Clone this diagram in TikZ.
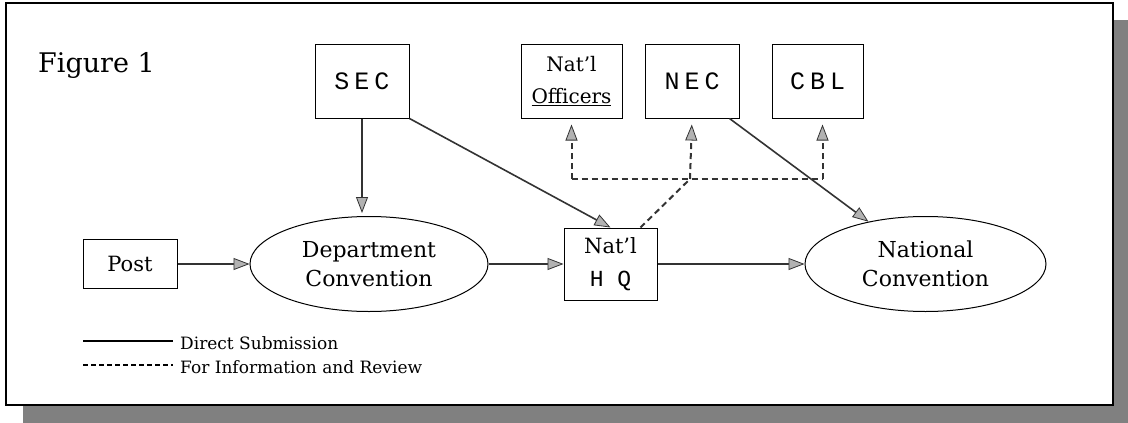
\documentclass[tikz,border=0pt]{standalone}
\usepackage{fontspec}
\setmainfont{DejaVu Serif}
\newfontfamily\typefont{Liberation Mono}
\usepackage{tikz}
\usetikzlibrary{shapes.geometric, arrows.meta, positioning, calc}
\tikzstyle{unit} = [rectangle, minimum width=94pt, minimum height=74pt, text centered, draw=black, line width=1pt, font=\fontsize{25}{29}\selectfont\typefont\addfontfeature{LetterSpace=20}]
\tikzstyle{meeting} = [ellipse, minimum width=238pt, minimum height=95pt, align=center, draw=black, line width=1pt, font=\fontsize{22}{29}\selectfont]
\tikzstyle{arrow} = [line width=1.6pt, black!80, -{Triangle[length=16pt, width=12pt, line width=0.8pt, fill=black!30]}]
\tikzstyle{review} = [arrow, line width=2pt, dash pattern=on 6pt off 4pt]
\tikzstyle{legend} = [anchor=base west, inner sep=0pt, font=\fontsize{17}{20}\selectfont]

\begin{document}
\begin{tikzpicture}[x=1pt, y=-1pt]
    % Frame
    \useasboundingbox (0,0) rectangle (1128,423);
    \fill [black!50] (23,20) rectangle (1128,423);
    \draw [fill=white, line width=1.2pt] (6,3) rectangle (1113,405);
    \node (title) [anchor=base west, inner sep=0pt, font=\fontsize{27}{32}\selectfont] at (38,72) {Figure 1};

    % Top row
    \node (sec) [unit] at (362,81) {SEC};
    \node (officers) [unit, minimum width=101pt, align=center, font=\fontsize{20}{32}\selectfont, right=111pt of sec] {Nat'l\\\underline{Officers}};
    \node (nec) [unit, right=22pt of officers] {NEC};
    \node (cbl) [unit, minimum width=91pt, right=32pt of nec] {CBL};

    % Middle row
    \node (post) [unit, minimum height=49pt, font=\fontsize{21}{24}\selectfont] at (130,264) {Post};
    \node (dept) [meeting, right=72pt of post] {Department\\Convention};
    \node (hq) [unit, minimum width=93pt, minimum height=72pt, align=center, font=\fontsize{21}{33}\selectfont, right=75pt of dept] {Nat'l\\{\typefont\fontsize{23}{33}\selectfont H Q}};
    \node (natconv) [meeting, minimum width=241pt, right=147pt of hq] {National\\Convention};

    % Arrows
    \draw [arrow] (post) -- (dept);
    \draw [arrow] (dept) -- (hq);
    \draw [arrow] (hq) -- (natconv);
    \draw [arrow, shorten >=3pt] (sec.south) -- (sec.south |- dept.north);
    \draw [arrow] (sec.south east) -- (hq.north);
    \draw [arrow] ($(nec.south east)+(-10,0)$) -- (natconv);

    % Information and review
    \coordinate (junc) at (690,179);
    \draw [review, -] ($(hq.north)+(30,0)$) -- (junc);
    \draw [review, -] (officers.south |- junc) -- ($(cbl.south |- junc)+(5,0)$);
    \draw [review, shorten >=6pt] (officers.south |- junc) -- (officers.south);
    \draw [review, shorten >=6pt] (junc) -- (nec.south);
    \draw [review, shorten >=6pt] ($(cbl.south |- junc)+(5,0)$) -- ($(cbl.south)+(5,0)$);

    % Legend
    \coordinate (keyA) at (83,341);
    \coordinate (keyB) at (173,341);
    \coordinate (keyC) at (83,365);
    \coordinate (keyD) at (173,365);
    \draw [line width=1.4pt] (keyA) -- (keyB);
    \draw [line width=1.4pt, dash pattern=on 5pt off 3pt] (keyC) -- (keyD);
    \node (legdirect) [legend] at (180,349) {Direct Submission};
    \node (legreview) [legend] at (180,373) {For Information and Review};
\end{tikzpicture}
\end{document}
